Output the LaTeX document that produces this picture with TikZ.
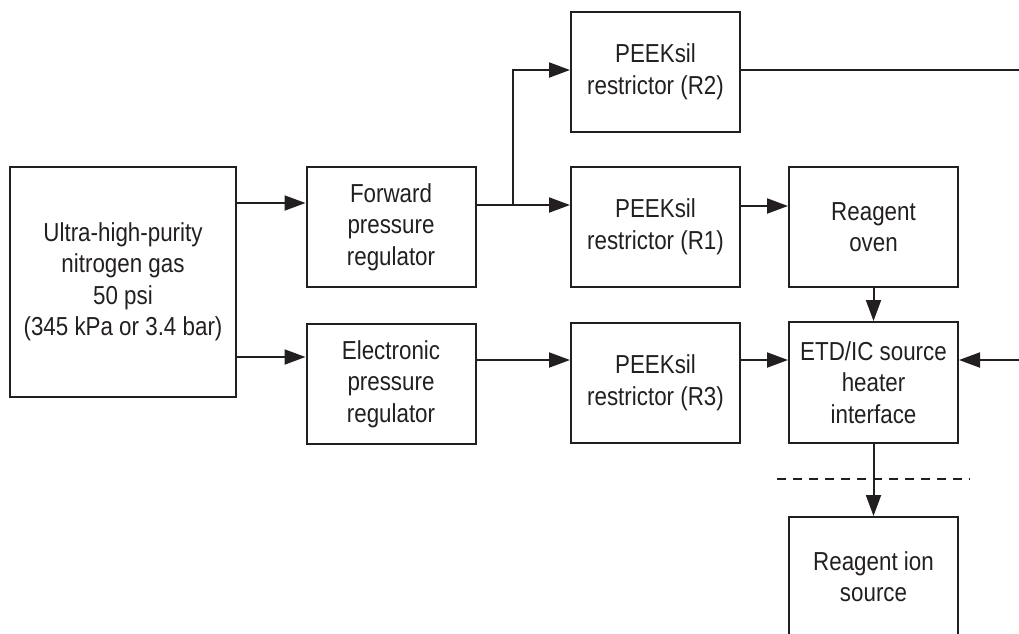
\documentclass[tikz,border=0pt]{standalone}
\usepackage{fontspec}
\setmainfont[FakeStretch=0.86]{Liberation Sans}
\usetikzlibrary{arrows.meta}
\definecolor{ink}{HTML}{231F20}
\tikzset{
  box/.style={draw=ink, line width=2pt, text=ink, align=center, inner sep=0pt,
    font=\fontsize{26}{31.5}\selectfont},
  std/.style={box, minimum width=169pt, minimum height=120pt},
  arr/.style={draw=ink, line width=2pt, -{Triangle[length=21pt,width=15pt]}},
  ln/.style={draw=ink, line width=2pt},
}
\begin{document}
\begin{tikzpicture}[x=1pt,y=-1pt]
\useasboundingbox (0,0) rectangle (1019,633);
\clip (0,0) rectangle (1019,633);
\node[box, minimum width=226pt, minimum height=230pt] (src) at (123,282)
  {Ultra-high-purity\\nitrogen gas\\50 psi\\(345 kPa or 3.4 bar)};
\node[std] (fpr) at (391,227) {Forward\\pressure\\regulator};
\node[std] (epr) at (391,384) {Electronic\\pressure\\regulator};
\node[std] (r2) at (655.5,72) {PEEKsil\\restrictor (R2)};
\node[std] (r1) at (655.5,227) {PEEKsil\\restrictor (R1)};
\node[std] (r3) at (655.5,383) {PEEKsil\\restrictor (R3)};
\node[std] (oven) at (873.5,227) {Reagent\\oven};
\node[std, minimum height=121pt] (etd) at (873.5,382.5) {ETD/IC source\\heater\\interface};
\node[box, minimum width=169pt, minimum height=119pt] (ris) at (873.5,576.5)
  {Reagent ion\\source};
\coordinate (ya) at (0,203);
\coordinate (yb) at (0,205);
\coordinate (yc) at (0,206);
\coordinate (yd) at (0,357);
\coordinate (ye) at (0,360);
\coordinate (br) at (513,205);
\coordinate (r2out) at (1030,70);
\coordinate (etdin) at (1030,360);
\coordinate (dl) at (777,479);
\coordinate (dr) at (970,479);
\draw[arr] (src.east |- ya) -- (fpr.west |- ya);
\draw[arr] (fpr.east |- yb) -- (r1.west |- yb);
\draw[arr] (br) |- (r2.west |- r2out);
\draw[ln] (r2.east |- r2out) -- (r2out);
\draw[arr] (r1.east |- yc) -- (oven.west |- yc);
\draw[arr] (src.east |- yd) -- (epr.west |- yd);
\draw[arr] (epr.east |- ye) -- (r3.west |- ye);
\draw[arr] (r3.east |- ye) -- (etd.west |- ye);
\draw[arr] (etdin) -- (etd.east |- etdin);
\draw[arr] (oven.south) -- (etd.north);
\draw[arr] (etd.south) -- (ris.north);
\draw[ln, dash pattern=on 9pt off 7pt] (dl) -- (dr);
\end{tikzpicture}
\end{document}
